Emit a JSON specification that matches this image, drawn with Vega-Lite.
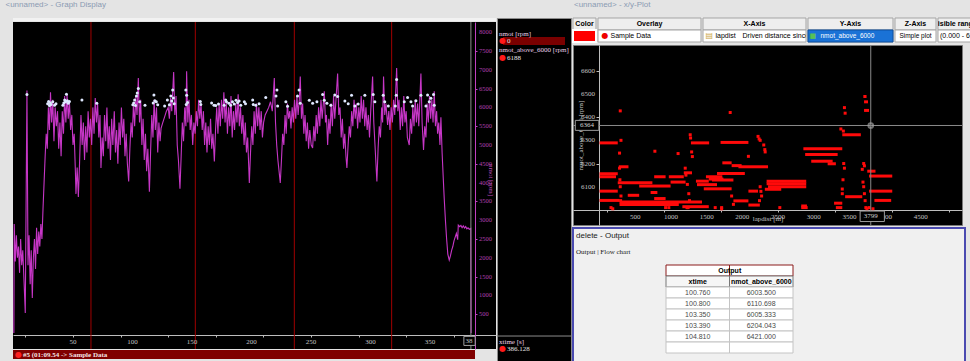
{
"$schema":"https://vega.github.io/schema/vega-lite/v6.json",
"background":"#e4e4e4",
"padding":{"left":5,"top":0,"right":0,"bottom":0},
"spacing":0,
"resolve":{"scale":{"x":"independent","y":"independent"}},
"config":{"view":{"stroke":null},"concat":{"spacing":0},"axis":{"grid":false,"labels":false},"title":{"font":"Liberation Sans","fontWeight":"normal","fontSize":8,"color":"#8b9bb3","anchor":"start"},"text":{"font":"Liberation Sans","fontSize":7}},
"datasets":{
"nmot":[{"xtime":0.3,"nmot":0},{"xtime":0.6,"nmot":2900},{"xtime":1.5,"nmot":1900},{"xtime":2.4,"nmot":2600},{"xtime":3.3,"nmot":2000},{"xtime":4.2,"nmot":2300},{"xtime":5.1,"nmot":1600},{"xtime":6,"nmot":2500},{"xtime":6.9,"nmot":1800},{"xtime":7.8,"nmot":2200},{"xtime":8.7,"nmot":1500},{"xtime":9.9,"nmot":530},{"xtime":11.3,"nmot":6450},{"xtime":12.2,"nmot":1800},{"xtime":13.1,"nmot":2600},{"xtime":14,"nmot":1300},{"xtime":14.9,"nmot":2200},{"xtime":15.8,"nmot":930},{"xtime":16.7,"nmot":2000},{"xtime":17.6,"nmot":2500},{"xtime":18.5,"nmot":1700},{"xtime":19.4,"nmot":2800},{"xtime":20.3,"nmot":2100},{"xtime":21.2,"nmot":2700},{"xtime":22.1,"nmot":2300},{"xtime":23,"nmot":2900},{"xtime":23.9,"nmot":2500},{"xtime":24.8,"nmot":3300},
{"xtime":25.7,"nmot":4000},{"xtime":26.6,"nmot":4700},{"xtime":27.5,"nmot":5300},{"xtime":28.4,"nmot":4900},{"xtime":29.3,"nmot":6000},{"xtime":30.2,"nmot":5400},{"xtime":31.1,"nmot":6400},{"xtime":32,"nmot":5600},{"xtime":33,"nmot":6200},{"xtime":34,"nmot":5100},{"xtime":35,"nmot":6000},{"xtime":36,"nmot":5500},{"xtime":37,"nmot":5900},{"xtime":38,"nmot":4900},{"xtime":39,"nmot":5600},{"xtime":40,"nmot":4700},{"xtime":41,"nmot":5900},{"xtime":42,"nmot":5300},{"xtime":43,"nmot":6300},{"xtime":44,"nmot":5600},{"xtime":45,"nmot":6350},{"xtime":46,"nmot":5700},{"xtime":47,"nmot":6150},{"xtime":48,"nmot":5400},{"xtime":49,"nmot":5800},{"xtime":50,"nmot":5000},{"xtime":51,"nmot":5300},{"xtime":52,"nmot":4300},{"xtime":52.5,"nmot":3700},{"xtime":53.5,"nmot":4400},{"xtime":54.5,"nmot":3620},{"xtime":55.5,"nmot":4500},
{"xtime":56.7,"nmot":5800},{"xtime":57.7,"nmot":5000},{"xtime":58.7,"nmot":5600},{"xtime":59.7,"nmot":4600},{"xtime":60.7,"nmot":5500},{"xtime":61.7,"nmot":4800},{"xtime":62.7,"nmot":5900},{"xtime":63.7,"nmot":5200},{"xtime":64.7,"nmot":5700},{"xtime":65.7,"nmot":5000},{"xtime":66.7,"nmot":6000},{"xtime":67.7,"nmot":5300},{"xtime":68.7,"nmot":6250},{"xtime":69.7,"nmot":5600},{"xtime":70.7,"nmot":6100},{"xtime":71.7,"nmot":5200},{"xtime":72.7,"nmot":5800},{"xtime":73.5,"nmot":4390},{"xtime":74.5,"nmot":5200},{"xtime":75.5,"nmot":4700},{"xtime":76.5,"nmot":5800},{"xtime":77.5,"nmot":5100},{"xtime":78.5,"nmot":6000},{"xtime":79.5,"nmot":4900},{"xtime":80.5,"nmot":5500},{"xtime":81.5,"nmot":4600},{"xtime":82.5,"nmot":5700},{"xtime":83.5,"nmot":5000},{"xtime":84.7,"nmot":5900},{"xtime":85.7,"nmot":4800},{"xtime":86.7,"nmot":5400},{"xtime":87.7,"nmot":4500},{"xtime":88.7,"nmot":5600},{"xtime":89.7,"nmot":5000},{"xtime":90.7,"nmot":6000},{"xtime":91.7,"nmot":5200},{"xtime":92.7,"nmot":5700},{"xtime":93.7,"nmot":4700},{"xtime":94.7,"nmot":5300},{"xtime":95.7,"nmot":4500},{"xtime":96.8,"nmot":4030},{"xtime":97.8,"nmot":4900},
{"xtime":98.8,"nmot":5600},{"xtime":99.8,"nmot":5200},{"xtime":100.8,"nmot":6100},{"xtime":101.8,"nmot":5500},{"xtime":102.8,"nmot":6300},{"xtime":103.8,"nmot":5800},{"xtime":104.9,"nmot":6780},{"xtime":105.9,"nmot":5600},{"xtime":106.9,"nmot":6200},{"xtime":107.9,"nmot":5000},{"xtime":108.9,"nmot":5700},{"xtime":109.9,"nmot":4600},{"xtime":110.9,"nmot":5300},{"xtime":111.9,"nmot":4300},{"xtime":112.9,"nmot":4900},{"xtime":114.2,"nmot":3760},{"xtime":115.2,"nmot":4800},{"xtime":116.2,"nmot":5800},{"xtime":117.2,"nmot":5200},{"xtime":118.2,"nmot":6200},{"xtime":119.2,"nmot":5400},{"xtime":120.2,"nmot":6000},{"xtime":121.2,"nmot":4800},{"xtime":122.2,"nmot":5600},{"xtime":123.2,"nmot":5100},{"xtime":124,"nmot":5440},
{"xtime":125.5,"nmot":5600},{"xtime":127,"nmot":5750},{"xtime":128.5,"nmot":5900},{"xtime":130,"nmot":6000},{"xtime":131,"nmot":5700},{"xtime":132,"nmot":6250},{"xtime":133,"nmot":5900},{"xtime":134.6,"nmot":6940},{"xtime":135.6,"nmot":5800},{"xtime":136.6,"nmot":6300},{"xtime":137.6,"nmot":5000},{"xtime":138.6,"nmot":4600},{"xtime":139.9,"nmot":3840},{"xtime":140.9,"nmot":4700},{"xtime":141.9,"nmot":5600},{"xtime":142.9,"nmot":5100},{"xtime":143.9,"nmot":6000},{"xtime":144.9,"nmot":5500},{"xtime":145.5,"nmot":6960},{"xtime":146.5,"nmot":5600},{"xtime":147.5,"nmot":6200},{"xtime":148.5,"nmot":5400},{"xtime":149.5,"nmot":5800},{"xtime":150.6,"nmot":5000},{"xtime":151.6,"nmot":5600},{"xtime":152.6,"nmot":5300},{"xtime":153.6,"nmot":5900},{"xtime":154.6,"nmot":5500},{"xtime":155.6,"nmot":6200},{"xtime":156.6,"nmot":5700},{"xtime":157.6,"nmot":6100},{"xtime":158.6,"nmot":5400},{"xtime":159.6,"nmot":5900},{"xtime":160.6,"nmot":5000},{"xtime":161.6,"nmot":5600},{"xtime":162.6,"nmot":4800},{"xtime":163.6,"nmot":5500},{"xtime":164.6,"nmot":5000},{"xtime":165.6,"nmot":5700},{"xtime":166.6,"nmot":4900},{"xtime":167.6,"nmot":5300},{"xtime":168.8,"nmot":4560},{"xtime":169.8,"nmot":5400},{"xtime":170.8,"nmot":6000},{"xtime":171.8,"nmot":5300},{"xtime":172.8,"nmot":6100},{"xtime":173.8,"nmot":5500},{"xtime":174.8,"nmot":6200},{"xtime":175.8,"nmot":5700},{"xtime":176.8,"nmot":6400},{"xtime":177.8,"nmot":5600},{"xtime":178.8,"nmot":6150},{"xtime":179.8,"nmot":5300},{"xtime":180.8,"nmot":6000},{"xtime":181.8,"nmot":5500},{"xtime":182.8,"nmot":6300},{"xtime":183.8,"nmot":5200},{"xtime":184.8,"nmot":5900},{"xtime":185.8,"nmot":5400},{"xtime":186.8,"nmot":6100},{"xtime":187.8,"nmot":5600},{"xtime":188.8,"nmot":6350},{"xtime":189.8,"nmot":5500},{"xtime":190.8,"nmot":6000},{"xtime":191.8,"nmot":5300},{"xtime":192.8,"nmot":5800},{"xtime":193.8,"nmot":5000},{"xtime":194.8,"nmot":5600},{"xtime":195.8,"nmot":4800},{"xtime":196.8,"nmot":5200},{"xtime":198.2,"nmot":3990},{"xtime":199.2,"nmot":4800},
{"xtime":200.2,"nmot":5500},{"xtime":201.2,"nmot":5000},{"xtime":202.2,"nmot":5900},{"xtime":203.2,"nmot":5300},{"xtime":204.2,"nmot":6100},{"xtime":205.2,"nmot":5500},{"xtime":206.2,"nmot":6000},{"xtime":207.2,"nmot":5400},{"xtime":208.2,"nmot":5900},{"xtime":209.2,"nmot":5200},{"xtime":210.2,"nmot":5600},{"xtime":211.5,"nmot":5800},{"xtime":213,"nmot":5900},{"xtime":214.5,"nmot":6000},{"xtime":216,"nmot":6150},{"xtime":217.5,"nmot":5900},{"xtime":219.2,"nmot":6780},{"xtime":220.2,"nmot":5600},{"xtime":221.2,"nmot":5000},{"xtime":222.2,"nmot":4600},{"xtime":223.2,"nmot":4300},{"xtime":224.2,"nmot":3990},{"xtime":225.2,"nmot":4600},{"xtime":226.2,"nmot":5300},{"xtime":227.2,"nmot":5000},{"xtime":228.2,"nmot":5800},{"xtime":229.2,"nmot":5300},{"xtime":230.2,"nmot":6100},{"xtime":231.2,"nmot":5700},{"xtime":232.2,"nmot":5900},{"xtime":233.2,"nmot":5440},{"xtime":234.2,"nmot":6000},{"xtime":235.2,"nmot":5600},{"xtime":236.2,"nmot":6200},{"xtime":237.2,"nmot":5700},{"xtime":238.2,"nmot":6300},{"xtime":239.2,"nmot":5800},{"xtime":240.2,"nmot":6200},{"xtime":241,"nmot":6820},{"xtime":242,"nmot":5700},{"xtime":243,"nmot":6100},{"xtime":244,"nmot":5300},{"xtime":245,"nmot":5800},{"xtime":246,"nmot":5100},{"xtime":247,"nmot":5600},{"xtime":248,"nmot":4900},{"xtime":249,"nmot":5400},{"xtime":250.2,"nmot":5000},{"xtime":251.4,"nmot":4920},{"xtime":252.4,"nmot":5500},{"xtime":253.4,"nmot":5100},{"xtime":254.4,"nmot":5800},{"xtime":255.4,"nmot":5300},{"xtime":256.4,"nmot":6000},{"xtime":257.4,"nmot":5500},{"xtime":258.4,"nmot":6200},{"xtime":259.4,"nmot":5700},{"xtime":261.2,"nmot":6430},{"xtime":262.2,"nmot":5600},{"xtime":263,"nmot":5800},{"xtime":264,"nmot":5000},{"xtime":265,"nmot":5700},{"xtime":266,"nmot":5300},{"xtime":267,"nmot":6100},{"xtime":268,"nmot":5500},{"xtime":269,"nmot":6300},{"xtime":270,"nmot":5700},{"xtime":271,"nmot":6200},{"xtime":272.4,"nmot":6900},{"xtime":273.4,"nmot":5800},{"xtime":274.4,"nmot":6000},{"xtime":275.4,"nmot":5200},{"xtime":276.4,"nmot":5700},{"xtime":277.4,"nmot":4900},{"xtime":278.4,"nmot":5300},{"xtime":279.4,"nmot":4700},{"xtime":280.2,"nmot":4390},{"xtime":281.2,"nmot":5000},{"xtime":282.2,"nmot":5500},{"xtime":283.2,"nmot":5200},{"xtime":284.2,"nmot":5900},{"xtime":285.2,"nmot":5500},{"xtime":286.2,"nmot":6200},{"xtime":287.2,"nmot":5700},{"xtime":288.2,"nmot":6100},{"xtime":289.2,"nmot":5440},{"xtime":290.2,"nmot":6000},{"xtime":291.2,"nmot":5600},{"xtime":292.2,"nmot":6300},{"xtime":293.2,"nmot":5700},{"xtime":294.2,"nmot":6200},{"xtime":295.2,"nmot":5500},{"xtime":296.2,"nmot":6000},{"xtime":297.2,"nmot":5400},{"xtime":298.2,"nmot":5800},{"xtime":299.2,"nmot":5200},{"xtime":300.2,"nmot":5900},{"xtime":301.8,"nmot":6820},{"xtime":302.8,"nmot":5600},{"xtime":303.8,"nmot":5000},{"xtime":305.4,"nmot":4030},{"xtime":306.4,"nmot":4900},{"xtime":307.4,"nmot":5500},{"xtime":308.4,"nmot":5200},{"xtime":309.4,"nmot":6000},{"xtime":310.2,"nmot":5600},{"xtime":311,"nmot":6820},{"xtime":312,"nmot":5800},{"xtime":313,"nmot":6100},{"xtime":314.4,"nmot":5530},{"xtime":315.4,"nmot":5900},{"xtime":316.4,"nmot":5400},{"xtime":317.4,"nmot":6000},{"xtime":318.4,"nmot":5600},{"xtime":319.4,"nmot":6200},{"xtime":320.4,"nmot":5800},{"xtime":322,"nmot":7050},{"xtime":323,"nmot":5900},{"xtime":324,"nmot":6200},{"xtime":325,"nmot":5400},{"xtime":326,"nmot":6000},{"xtime":327,"nmot":5500},{"xtime":328,"nmot":6300},{"xtime":329,"nmot":5600},{"xtime":330,"nmot":5900},{"xtime":331,"nmot":5200},{"xtime":332.6,"nmot":5000},{"xtime":333.6,"nmot":5700},{"xtime":334.6,"nmot":5300},{"xtime":335.6,"nmot":6000},{"xtime":336.6,"nmot":5500},{"xtime":337.6,"nmot":6200},{"xtime":338.6,"nmot":5600},{"xtime":339.6,"nmot":6100},{"xtime":340.6,"nmot":5500},{"xtime":342.4,"nmot":6900},{"xtime":343.4,"nmot":5600},{"xtime":344.6,"nmot":4870},{"xtime":345.6,"nmot":5500},{"xtime":346.6,"nmot":5200},{"xtime":347.6,"nmot":6100},{"xtime":348.6,"nmot":5600},{"xtime":349.6,"nmot":6300},{"xtime":350.6,"nmot":5700},{"xtime":351.6,"nmot":6200},{"xtime":352.6,"nmot":5600},{"xtime":353.6,"nmot":6430},{"xtime":354.6,"nmot":5500},{"xtime":355.6,"nmot":5900},{"xtime":356.4,"nmot":5300},{"xtime":357.4,"nmot":5600},{"xtime":358.4,"nmot":5000},{"xtime":359.2,"nmot":5740},{"xtime":360.2,"nmot":4800},{"xtime":361.2,"nmot":4100},{"xtime":362,"nmot":3570},{"xtime":363,"nmot":3000},{"xtime":364,"nmot":2500},{"xtime":365,"nmot":2100},{"xtime":366.2,"nmot":1940},{"xtime":367.2,"nmot":2050},{"xtime":368.2,"nmot":2200},{"xtime":369.2,"nmot":2300},{"xtime":370.2,"nmot":2450},{"xtime":371.2,"nmot":2550},{"xtime":372.2,"nmot":2650},{"xtime":373.3,"nmot":2480},{"xtime":373.8,"nmot":2870},{"xtime":375,"nmot":2830},{"xtime":376,"nmot":2860},{"xtime":377,"nmot":2800},{"xtime":378,"nmot":2850},{"xtime":379,"nmot":2790},{"xtime":380,"nmot":2830},{"xtime":381,"nmot":2770},{"xtime":382,"nmot":2800},{"xtime":383,"nmot":2760},{"xtime":384.3,"nmot":2780},{"xtime":384.6,"nmot":0}],
"above":[{"xtime":11.3,"nmot_above_6000":6340},{"xtime":28.7,"nmot_above_6000":6100},{"xtime":29.5,"nmot_above_6000":6160},{"xtime":30.2,"nmot_above_6000":6050},{"xtime":31,"nmot_above_6000":6120},{"xtime":31.6,"nmot_above_6000":6080},{"xtime":33,"nmot_above_6000":6150},{"xtime":34.5,"nmot_above_6000":6060},{"xtime":35.7,"nmot_above_6000":6100},{"xtime":41.5,"nmot_above_6000":6060},{"xtime":42.3,"nmot_above_6000":6120},{"xtime":43,"nmot_above_6000":6200},{"xtime":43.8,"nmot_above_6000":6150},{"xtime":44.5,"nmot_above_6000":6350},{"xtime":45.3,"nmot_above_6000":6180},{"xtime":46,"nmot_above_6000":6110},{"xtime":47,"nmot_above_6000":6160},{"xtime":57.5,"nmot_above_6000":6200},{"xtime":70,"nmot_above_6000":6110},{"xtime":100.3,"nmot_above_6000":6070},{"xtime":101,"nmot_above_6000":6120},{"xtime":101.8,"nmot_above_6000":6200},{"xtime":102.5,"nmot_above_6000":6050},{"xtime":103.3,"nmot_above_6000":6300},{"xtime":104,"nmot_above_6000":6380},{"xtime":104.9,"nmot_above_6000":6500},{"xtime":106,"nmot_above_6000":6150},{"xtime":110.5,"nmot_above_6000":6060},{"xtime":117.4,"nmot_above_6000":6120},{"xtime":118,"nmot_above_6000":6330},{"xtime":118.8,"nmot_above_6000":6180},{"xtime":120,"nmot_above_6000":6150},{"xtime":121.2,"nmot_above_6000":6070},{"xtime":127,"nmot_above_6000":6040},{"xtime":129.3,"nmot_above_6000":6200},{"xtime":131,"nmot_above_6000":6070},{"xtime":132.2,"nmot_above_6000":6300},{"xtime":133,"nmot_above_6000":6170},{"xtime":133.8,"nmot_above_6000":6460},{"xtime":134.4,"nmot_above_6000":6250},{"xtime":135,"nmot_above_6000":6100},{"xtime":144.8,"nmot_above_6000":6460},{"xtime":145.2,"nmot_above_6000":6080},{"xtime":145.5,"nmot_above_6000":6320},{"xtime":146.3,"nmot_above_6000":6130},{"xtime":157,"nmot_above_6000":6160},{"xtime":157.4,"nmot_above_6000":6080},{"xtime":166.5,"nmot_above_6000":6120},{"xtime":168.5,"nmot_above_6000":6060},{"xtime":170,"nmot_above_6000":6050},{"xtime":172.3,"nmot_above_6000":6090},{"xtime":177,"nmot_above_6000":6060},{"xtime":178.3,"nmot_above_6000":6200},{"xtime":179,"nmot_above_6000":6150},{"xtime":181,"nmot_above_6000":6110},{"xtime":182.5,"nmot_above_6000":6060},{"xtime":184,"nmot_above_6000":6150},{"xtime":185.5,"nmot_above_6000":6090},{"xtime":187,"nmot_above_6000":6190},{"xtime":188.3,"nmot_above_6000":6130},{"xtime":189.6,"nmot_above_6000":6170},{"xtime":191,"nmot_above_6000":6060},{"xtime":194,"nmot_above_6000":6150},{"xtime":195,"nmot_above_6000":6100},{"xtime":201,"nmot_above_6000":6200},{"xtime":201.5,"nmot_above_6000":6080},{"xtime":203.6,"nmot_above_6000":6060},{"xtime":206.4,"nmot_above_6000":6100},{"xtime":212,"nmot_above_6000":6260},{"xtime":220.6,"nmot_above_6000":6300},{"xtime":221.4,"nmot_above_6000":6460},{"xtime":222,"nmot_above_6000":6040},{"xtime":228.9,"nmot_above_6000":6150},{"xtime":230.3,"nmot_above_6000":6030},{"xtime":238.7,"nmot_above_6000":6300},{"xtime":240,"nmot_above_6000":6460},{"xtime":241,"nmot_above_6000":6110},{"xtime":248.6,"nmot_above_6000":6190},{"xtime":251.4,"nmot_above_6000":6110},{"xtime":255,"nmot_above_6000":6150},{"xtime":259.8,"nmot_above_6000":6340},{"xtime":261.2,"nmot_above_6000":6190},{"xtime":263.4,"nmot_above_6000":6110},{"xtime":266.7,"nmot_above_6000":6060},{"xtime":270,"nmot_above_6000":6330},{"xtime":272.4,"nmot_above_6000":6290},{"xtime":278.5,"nmot_above_6000":6170},{"xtime":281.3,"nmot_above_6000":6100},{"xtime":284.1,"nmot_above_6000":6320},{"xtime":286.9,"nmot_above_6000":6040},{"xtime":289.7,"nmot_above_6000":6090},{"xtime":295.3,"nmot_above_6000":6320},{"xtime":302.3,"nmot_above_6000":6340},{"xtime":303.7,"nmot_above_6000":6150},{"xtime":310.7,"nmot_above_6000":6320},{"xtime":312,"nmot_above_6000":6150},{"xtime":315,"nmot_above_6000":6040},{"xtime":320.9,"nmot_above_6000":6040},{"xtime":321.7,"nmot_above_6000":6320},{"xtime":322,"nmot_above_6000":6740},{"xtime":328.4,"nmot_above_6000":6150},{"xtime":331.2,"nmot_above_6000":6260},{"xtime":334,"nmot_above_6000":6150},{"xtime":335.4,"nmot_above_6000":6040},{"xtime":338.2,"nmot_above_6000":6180},{"xtime":342.4,"nmot_above_6000":6320},{"xtime":346.6,"nmot_above_6000":6040},{"xtime":348,"nmot_above_6000":6330},{"xtime":349.4,"nmot_above_6000":6150},{"xtime":350.8,"nmot_above_6000":6240},{"xtime":353,"nmot_above_6000":6340},{"xtime":353.6,"nmot_above_6000":6060}],
"laps":[{"xtime":65.1},{"xtime":152.8},{"xtime":236},{"xtime":317.8}],
"timeTicks":[{"tick":50},{"tick":100},{"tick":150},{"tick":200},{"tick":250},{"tick":300},{"tick":350}],
"rpmTicks":[{"tick":500},{"tick":1000},{"tick":1500},{"tick":2000},{"tick":2500},{"tick":3000},{"tick":3500},{"tick":4000},{"tick":4500},{"tick":5000},{"tick":5500},{"tick":6000},{"tick":6500},{"tick":7000},{"tick":7500},{"tick":8000}],
"ldTicks":[{"tick":500},{"tick":1000},{"tick":1500},{"tick":2000},{"tick":2500},{"tick":3000},{"tick":3500},{"tick":4000},{"tick":4500}],
"nTicks":[{"tick":6100},{"tick":6200},{"tick":6300},{"tick":6400},{"tick":6500},{"tick":6600}],
"segs":[{"lapdist":0,"lapdist_end":255,"nmot_above_6000":6289},{"lapdist":0,"lapdist_end":255,"nmot_above_6000":6156},{"lapdist":0,"lapdist_end":230,"nmot_above_6000":6143},{"lapdist":0,"lapdist_end":255,"nmot_above_6000":6081},{"lapdist":0,"lapdist_end":280,"nmot_above_6000":6041},{"lapdist":255,"lapdist_end":740,"nmot_above_6000":6117},{"lapdist":555,"lapdist_end":995,"nmot_above_6000":6103},{"lapdist":395,"lapdist_end":555,"nmot_above_6000":6063},{"lapdist":280,"lapdist_end":1435,"nmot_above_6000":6034},{"lapdist":280,"lapdist_end":1110,"nmot_above_6000":6023},{"lapdist":765,"lapdist_end":925,"nmot_above_6000":6049},{"lapdist":765,"lapdist_end":925,"nmot_above_6000":6143},{"lapdist":270,"lapdist_end":405,"nmot_above_6000":6186},{"lapdist":970,"lapdist_end":1180,"nmot_above_6000":6143},{"lapdist":995,"lapdist_end":1205,"nmot_above_6000":6120},{"lapdist":1180,"lapdist_end":1295,"nmot_above_6000":6160},{"lapdist":1280,"lapdist_end":1535,"nmot_above_6000":6289},{"lapdist":1350,"lapdist_end":1530,"nmot_above_6000":6124},{"lapdist":1365,"lapdist_end":1645,"nmot_above_6000":6109},{"lapdist":1490,"lapdist_end":1720,"nmot_above_6000":6143},{"lapdist":1530,"lapdist_end":1735,"nmot_above_6000":6133},{"lapdist":1645,"lapdist_end":2035,"nmot_above_6000":6157},{"lapdist":1575,"lapdist_end":1875,"nmot_above_6000":6129},{"lapdist":1695,"lapdist_end":2085,"nmot_above_6000":6291},{"lapdist":1720,"lapdist_end":1850,"nmot_above_6000":6203},{"lapdist":1850,"lapdist_end":1990,"nmot_above_6000":6191},{"lapdist":1945,"lapdist_end":2360,"nmot_above_6000":6186},{"lapdist":1460,"lapdist_end":1850,"nmot_above_6000":6091},{"lapdist":1875,"lapdist_end":2085,"nmot_above_6000":6039},{"lapdist":2085,"lapdist_end":2220,"nmot_above_6000":6081},{"lapdist":2085,"lapdist_end":2245,"nmot_above_6000":6021},{"lapdist":2340,"lapdist_end":2895,"nmot_above_6000":6124},{"lapdist":2340,"lapdist_end":2895,"nmot_above_6000":6113},{"lapdist":2360,"lapdist_end":2895,"nmot_above_6000":6100},{"lapdist":2315,"lapdist_end":2545,"nmot_above_6000":6089},{"lapdist":2825,"lapdist_end":2915,"nmot_above_6000":6010},{"lapdist":2825,"lapdist_end":2905,"nmot_above_6000":6017},{"lapdist":2855,"lapdist_end":3400,"nmot_above_6000":6264},{"lapdist":2880,"lapdist_end":3335,"nmot_above_6000":6239},{"lapdist":2965,"lapdist_end":3265,"nmot_above_6000":6210},{"lapdist":3195,"lapdist_end":3310,"nmot_above_6000":6199},{"lapdist":3400,"lapdist_end":3660,"nmot_above_6000":6324},{"lapdist":3440,"lapdist_end":3680,"nmot_above_6000":6057},{"lapdist":3285,"lapdist_end":3400,"nmot_above_6000":6029},{"lapdist":3310,"lapdist_end":3400,"nmot_above_6000":6010},{"lapdist":3750,"lapdist_end":3865,"nmot_above_6000":6167},{"lapdist":3775,"lapdist_end":4100,"nmot_above_6000":6146},{"lapdist":3775,"lapdist_end":4100,"nmot_above_6000":6081},{"lapdist":3850,"lapdist_end":4085,"nmot_above_6000":6041},{"lapdist":3695,"lapdist_end":3740,"nmot_above_6000":6489},{"lapdist":3705,"lapdist_end":3760,"nmot_above_6000":6466},{"lapdist":3705,"lapdist_end":3775,"nmot_above_6000":6429},{"lapdist":1160,"lapdist_end":1530,"nmot_above_6000":6014},{"lapdist":715,"lapdist_end":810,"nmot_above_6000":6075}],
"pts":[{"lapdist":290,"nmot_above_6000":6427},{"lapdist":300,"nmot_above_6000":6300},{"lapdist":280,"nmot_above_6000":6245},{"lapdist":280,"nmot_above_6000":6180},{"lapdist":285,"nmot_above_6000":6130},{"lapdist":290,"nmot_above_6000":6100},{"lapdist":300,"nmot_above_6000":6060},{"lapdist":295,"nmot_above_6000":6040},{"lapdist":775,"nmot_above_6000":6253},{"lapdist":1100,"nmot_above_6000":6243},{"lapdist":1270,"nmot_above_6000":6324},{"lapdist":1275,"nmot_above_6000":6310},{"lapdist":1830,"nmot_above_6000":6420},{"lapdist":2085,"nmot_above_6000":6231},{"lapdist":2235,"nmot_above_6000":6306},{"lapdist":2250,"nmot_above_6000":6300},{"lapdist":2315,"nmot_above_6000":6260},{"lapdist":2320,"nmot_above_6000":6250},{"lapdist":2300,"nmot_above_6000":6280},{"lapdist":3380,"nmot_above_6000":6349},{"lapdist":3430,"nmot_above_6000":6441},{"lapdist":3440,"nmot_above_6000":6417},{"lapdist":3415,"nmot_above_6000":6340},{"lapdist":3420,"nmot_above_6000":6200},{"lapdist":3430,"nmot_above_6000":6180},{"lapdist":3410,"nmot_above_6000":6130},{"lapdist":3400,"nmot_above_6000":6090},{"lapdist":3400,"nmot_above_6000":6070},{"lapdist":3700,"nmot_above_6000":6200},{"lapdist":3710,"nmot_above_6000":6190},{"lapdist":3680,"nmot_above_6000":6175},{"lapdist":3690,"nmot_above_6000":6120},{"lapdist":3700,"nmot_above_6000":6100},{"lapdist":3710,"nmot_above_6000":6070},{"lapdist":3720,"nmot_above_6000":6040},{"lapdist":3730,"nmot_above_6000":6010},{"lapdist":3745,"nmot_above_6000":6005},{"lapdist":3830,"nmot_above_6000":6005},{"lapdist":1200,"nmot_above_6000":6180},{"lapdist":1210,"nmot_above_6000":6150},{"lapdist":1230,"nmot_above_6000":6110},{"lapdist":1250,"nmot_above_6000":6070},{"lapdist":1260,"nmot_above_6000":6040},{"lapdist":1240,"nmot_above_6000":6010},{"lapdist":1290,"nmot_above_6000":6250},{"lapdist":1300,"nmot_above_6000":6230},{"lapdist":2250,"nmot_above_6000":6100},{"lapdist":2260,"nmot_above_6000":6080},{"lapdist":2270,"nmot_above_6000":6060},{"lapdist":2240,"nmot_above_6000":6040},{"lapdist":2220,"nmot_above_6000":6317},{"lapdist":1850,"nmot_above_6000":6060},{"lapdist":1875,"nmot_above_6000":6024},{"lapdist":1620,"nmot_above_6000":6010},{"lapdist":1710,"nmot_above_6000":6010},{"lapdist":160,"nmot_above_6000":6010},{"lapdist":185,"nmot_above_6000":6005},{"lapdist":925,"nmot_above_6000":6010},{"lapdist":970,"nmot_above_6000":6010},{"lapdist":1225,"nmot_above_6000":6010},{"lapdist":1710,"nmot_above_6000":6005},{"lapdist":2525,"nmot_above_6000":6010},{"lapdist":3775,"nmot_above_6000":6010}],
"cursor":[{"lapdist":3799,"nmot_above_6000":6364}],
"outTable":[{"row":"r1","xtime":"100.760","nmot_above_6000":"6003.500"},{"row":"r2","xtime":"100.800","nmot_above_6000":"6110.698"},{"row":"r3","xtime":"103.350","nmot_above_6000":"6005.333"},{"row":"r4","xtime":"103.390","nmot_above_6000":"6204.043"},{"row":"r5","xtime":"104.810","nmot_above_6000":"6421.000"},{"row":"r6","xtime":"","nmot_above_6000":""}],
"legend":[{"entry":"nmot [rpm]","kind":"name","row":1.86},{"entry":"0","kind":"value","row":2.67},{"entry":"nmot_above_6000 [rpm]","kind":"name","row":3.72},{"entry":"6188","kind":"value","row":4.65},{"entry":"xtime [s]","kind":"name","row":37.67},{"entry":"386.128","kind":"value","row":38.49}]
},
"hconcat":[
{"vconcat":[
 {"width":483,"height":3,
  "title":{"text":"<unnamed> - Graph Display","offset":9,"dx":-7},
  "view":{"fill":"#f2f2f2","stroke":null},
  "data":{"values":[{"window":"Graph Display"}]},"mark":{"type":"rule","opacity":0},"encoding":{}},
 {"width":483,"height":327,
  "view":{"fill":"#000000","stroke":null},
  "layer":[
   {"data":{"name":"laps"},"mark":{"type":"rule","color":"#a00000","strokeWidth":1},
    "encoding":{"x":{"field":"xtime","type":"quantitative","scale":{"domain":[-0.42,405.5],"nice":false,"zero":false},
     "axis":{"orient":"bottom","offset":-14,"values":[10,20,30,40,50,60,70,80,90,100,110,120,130,140,150,160,170,180,190,200,210,220,230,240,250,260,270,280,290,300,310,320,330,340,350,360,370,380],"title":null,"labels":false,"tickColor":"#bdbdbd","tickSize":2,"domainColor":"#bdbdbd"}}}},
   {"data":{"name":"nmot"},"mark":{"type":"line","color":"#c636c6","strokeWidth":1.1},
    "encoding":{"x":{"field":"xtime","type":"quantitative"},
     "y":{"field":"nmot","type":"quantitative","scale":{"domain":[-425,8271],"nice":false,"zero":false},
      "axis":{"orient":"right","offset":-21,"values":[500,1000,1500,2000,2500,3000,3500,4000,4500,5000,5500,6000,6500,7000,7500,8000],"title":null,"labels":false,"tickColor":"#c040c0","tickSize":2,"domainColor":"#c040c0"}}}},
   {"data":{"name":"above"},"mark":{"type":"circle","color":"#dfe8ff","size":9,"opacity":1},
    "encoding":{"x":{"field":"xtime","type":"quantitative"},"y":{"field":"nmot_above_6000","type":"quantitative"}}},
   {"data":{"values":[{"xtime":384.4}]},"mark":{"type":"rule","color":"#8a8a8a","strokeWidth":1},
    "encoding":{"x":{"field":"xtime","type":"quantitative"}}},
   {"data":{"name":"rpmTicks"},"mark":{"type":"text","align":"left","baseline":"middle","color":"#b040b0","font":"Liberation Serif","fontSize":6.5},
    "encoding":{"x":{"datum":391.3},"y":{"field":"tick","type":"quantitative"},"text":{"field":"tick","format":"d"}}},
   {"data":{"values":[{"axis":"nmot [rpm]"}]},"mark":{"type":"text","angle":90,"baseline":"middle","color":"#b84ab8","font":"Liberation Serif","fontSize":7},
    "encoding":{"x":{"datum":401.5},"y":{"datum":4070},"text":{"field":"axis"}}},
   {"data":{"name":"timeTicks"},"mark":{"type":"text","baseline":"middle","color":"#c4c4c4","font":"Liberation Serif","fontSize":7},
    "encoding":{"x":{"field":"tick","type":"quantitative"},"y":{"datum":-240},"text":{"field":"tick","format":"d"}}},
   {"data":{"values":[{"xtime":386.128}]},"mark":{"type":"rect","fill":"#000000","stroke":"#a0a0a0","strokeWidth":1},
    "encoding":{"x":{"datum":378.5},"x2":{"datum":388},"y":{"datum":-90},"y2":{"datum":-330}}},
   {"data":{"values":[{"xtime":386.128,"label":"38"}]},"mark":{"type":"text","baseline":"middle","color":"#c4c4c4","font":"Liberation Serif","fontSize":7},
    "encoding":{"x":{"datum":382.8},"y":{"datum":-215},"text":{"field":"label"}}}
  ]},
 {"width":462,"height":9,
  "view":{"fill":"#800000","stroke":null},
  "data":{"values":[{"lap":"#5 (01:09.54 -> Sample Data"}]},
  "layer":[
   {"mark":{"type":"text","text":"●","font":"DejaVu Sans","color":"#ff2020","fontSize":8,"align":"left","dx":-229},"encoding":{}},
   {"mark":{"type":"text","align":"left","dx":-221,"color":"#f2e4e4","fontSize":7,"font":"Liberation Serif","fontWeight":"bold"},"encoding":{"text":{"field":"lap"}}}
  ]}
 ],"spacing":0},
{"width":74,"height":344,
 "title":{"text":" ","offset":9},
 "view":{"fill":"#000000","stroke":"#8c8c8c"},
 "data":{"name":"legend"},
 "encoding":{"y":{"field":"row","type":"quantitative","scale":{"domain":[0,40],"reverse":true,"nice":false,"zero":false},"axis":null}},
 "layer":[
  {"transform":[{"filter":"datum.entry === '0'"}],"mark":{"type":"tick","orient":"horizontal","color":"#7a0000","thickness":8,"size":62,"opacity":1}},
  {"transform":[{"filter":"datum.kind === 'name'"}],"mark":{"type":"text","align":"left","dx":-35,"color":"#e8d0e8","font":"Liberation Serif","fontSize":7},"encoding":{"text":{"field":"entry"}}},
  {"transform":[{"filter":"datum.kind === 'value'"}],"mark":{"type":"text","text":"●","font":"DejaVu Sans","align":"left","dx":-35,"color":"#ff1a1a","fontSize":8}},
  {"transform":[{"filter":"datum.kind === 'value'"}],"mark":{"type":"text","align":"left","dx":-27,"color":"#e6e6e6","font":"Liberation Serif","fontSize":7},"encoding":{"text":{"field":"entry"}}},
  {"data":{"values":[{"row":36.98}]},"mark":{"type":"rule","color":"#8c8c8c","strokeWidth":1}}
 ]},
{"vconcat":[
 {"vconcat":[
  {"title":{"text":"<unnamed> - x/y-Plot","offset":9,"dx":2},
   "hconcat":[
    {"width":23,"height":24,"data":{"values":[{"row":"h","label":"Color"},{"row":"v","label":""}]},
     "encoding":{"y":{"field":"row","type":"nominal","scale":{"domain":["h","v"],"paddingInner":0,"paddingOuter":0},"axis":null}},
     "layer":[
      {"mark":{"type":"rect","stroke":"#a5a5a5","strokeWidth":1},"encoding":{"fill":{"condition":{"test":"datum.row==='h'","value":"#eeeeee"},"value":"#ffffff"}}},
      {"transform":[{"filter":"datum.row==='v'"}],"mark":{"type":"rect","fill":"#ff0000","stroke":"#ffffff","strokeWidth":2}},
      {"transform":[{"filter":"datum.row==='h'"}],"mark":{"type":"text","fontWeight":"bold","color":"#000000"},"encoding":{"text":{"field":"label"}}}
     ]},
    {"width":103,"height":24,"data":{"values":[{"row":"h","label":"Overlay"},{"row":"v","label":"Sample Data"}]},
     "encoding":{"y":{"field":"row","type":"nominal","scale":{"domain":["h","v"],"paddingInner":0,"paddingOuter":0},"axis":null}},
     "layer":[
      {"mark":{"type":"rect","stroke":"#a5a5a5","strokeWidth":1},"encoding":{"fill":{"condition":{"test":"datum.row==='h'","value":"#eeeeee"},"value":"#ffffff"}}},
      {"transform":[{"filter":"datum.row==='h'"}],"mark":{"type":"text","fontWeight":"bold","color":"#000000"},"encoding":{"text":{"field":"label"}}},
      {"transform":[{"filter":"datum.row==='v'"}],"mark":{"type":"text","text":"●","font":"DejaVu Sans","fontSize":8,"align":"left","dx":-48,"color":"#ee0000"}},
      {"transform":[{"filter":"datum.row==='v'"}],"mark":{"type":"text","align":"left","dx":-39,"color":"#000000"},"encoding":{"text":{"field":"label"}}}
     ]},
    {"width":103,"height":24,"data":{"values":[{"row":"h","label":"X-Axis","info":""},{"row":"v","label":"lapdist","info":"Driven distance since last lap"}]},
     "encoding":{"y":{"field":"row","type":"nominal","scale":{"domain":["h","v"],"paddingInner":0,"paddingOuter":0},"axis":null}},
     "layer":[
      {"mark":{"type":"rect","stroke":"#a5a5a5","strokeWidth":1},"encoding":{"fill":{"condition":{"test":"datum.row==='h'","value":"#eeeeee"},"value":"#ffffff"}}},
      {"transform":[{"filter":"datum.row==='h'"}],"mark":{"type":"text","fontWeight":"bold","color":"#000000"},"encoding":{"text":{"field":"label"}}},
      {"transform":[{"filter":"datum.row==='v'"}],"mark":{"type":"text","text":"▤","font":"DejaVu Sans","fontSize":8,"align":"left","dx":-49,"color":"#c9a23a"}},
      {"transform":[{"filter":"datum.row==='v'"}],"mark":{"type":"text","align":"left","dx":-39,"color":"#000000"},"encoding":{"text":{"field":"label"}}},
      {"transform":[{"filter":"datum.row==='v'"}],"mark":{"type":"text","align":"left","dx":-12,"color":"#000000","clip":true},"encoding":{"text":{"field":"info"}}}
     ]},
    {"width":85,"height":24,"data":{"values":[{"row":"h","label":"Y-Axis"},{"row":"v","label":"nmot_above_6000"}]},
     "encoding":{"y":{"field":"row","type":"nominal","scale":{"domain":["h","v"],"paddingInner":0,"paddingOuter":0},"axis":null}},
     "layer":[
      {"mark":{"type":"rect","stroke":"#a5a5a5","strokeWidth":1},"encoding":{"fill":{"condition":{"test":"datum.row==='h'","value":"#eeeeee"},"value":"#ffffff"}}},
      {"transform":[{"filter":"datum.row==='v'"}],"mark":{"type":"rect","fill":"#1a72d6","stroke":"#0c4f9e","strokeWidth":1}},
      {"transform":[{"filter":"datum.row==='h'"}],"mark":{"type":"text","fontWeight":"bold","color":"#000000"},"encoding":{"text":{"field":"label"}}},
      {"transform":[{"filter":"datum.row==='v'"}],"mark":{"type":"text","text":"■","font":"DejaVu Sans","fontSize":7,"align":"left","dx":-41,"color":"#58c058"}},
      {"transform":[{"filter":"datum.row==='v'"}],"mark":{"type":"text","align":"left","dx":-30,"color":"#ffffff","fontSize":6.5},"encoding":{"text":{"field":"label"}}}
     ]},
    {"width":41,"height":24,"data":{"values":[{"row":"h","label":"Z-Axis"},{"row":"v","label":"Simple plot"}]},
     "encoding":{"y":{"field":"row","type":"nominal","scale":{"domain":["h","v"],"paddingInner":0,"paddingOuter":0},"axis":null}},
     "layer":[
      {"mark":{"type":"rect","stroke":"#a5a5a5","strokeWidth":1},"encoding":{"fill":{"condition":{"test":"datum.row==='h'","value":"#eeeeee"},"value":"#ffffff"}}},
      {"transform":[{"filter":"datum.row==='h'"}],"mark":{"type":"text","fontWeight":"bold","color":"#000000"},"encoding":{"text":{"field":"label"}}},
      {"transform":[{"filter":"datum.row==='v'"}],"mark":{"type":"text","color":"#000000","fontSize":6.5},"encoding":{"text":{"field":"label"}}}
     ]},
    {"width":34,"height":24,"data":{"values":[{"row":"h","label":"Visible range"},{"row":"v","label":"(0.000 - 6900.000)"}]},
     "encoding":{"y":{"field":"row","type":"nominal","scale":{"domain":["h","v"],"paddingInner":0,"paddingOuter":0},"axis":null}},
     "layer":[
      {"mark":{"type":"rect","stroke":"#a5a5a5","strokeWidth":1},"encoding":{"fill":{"condition":{"test":"datum.row==='h'","value":"#eeeeee"},"value":"#ffffff"}}},
      {"transform":[{"filter":"datum.row==='h'"}],"mark":{"type":"text","fontWeight":"bold","color":"#000000","clip":true},"encoding":{"text":{"field":"label"}}},
      {"transform":[{"filter":"datum.row==='v'"}],"mark":{"type":"text","align":"left","dx":-15,"color":"#000000","clip":true},"encoding":{"text":{"field":"label"}}}
     ]}
   ],"spacing":0,"resolve":{"scale":{"y":"independent"}}},
  {"width":389,"height":180,
   "view":{"fill":"#000000","stroke":"#7a7a7a"},
   "layer":[
    {"data":{"name":"segs"},"mark":{"type":"rule","color":"#ff0a0a","strokeWidth":3,"strokeCap":"butt"},
     "encoding":{"x":{"field":"lapdist","type":"quantitative","scale":{"domain":[-372,5077],"nice":false,"zero":false},
       "axis":{"orient":"bottom","offset":-15,"values":[100,200,300,400,500,600,700,800,900,1000,1100,1200,1300,1400,1500,1600,1700,1800,1900,2000,2100,2200,2300,2400,2500,2600,2700,2800,2900,3000,3100,3200,3300,3400,3500,3600,3700,3800,3900,4000,4100,4200,4300,4400,4500,4600,4700,4800,4900],"labels":false,"title":"lapdist [m]","titleColor":"#c4c4c4","titleFont":"Liberation Serif","titleFontSize":7,"titleFontWeight":"normal","titlePadding":2,"tickColor":"#bdbdbd","tickSize":2,"domainColor":"#bdbdbd"}},
      "x2":{"field":"lapdist_end"},
      "y":{"field":"nmot_above_6000","type":"quantitative","scale":{"domain":[5935,6711],"nice":false,"zero":false},
       "axis":{"orient":"left","offset":-26,"values":[6000,6100,6200,6300,6400,6500,6600],"labels":false,"title":"nmot_above_6000 [rpm]","titleColor":"#c4c4c4","titleFont":"Liberation Serif","titleFontSize":7,"titleFontWeight":"normal","titlePadding":12,"tickColor":"#bdbdbd","tickSize":3,"domainColor":"#bdbdbd"}}}},
    {"data":{"name":"pts"},"mark":{"type":"square","color":"#ff0a0a","size":9,"opacity":1},
     "encoding":{"x":{"field":"lapdist","type":"quantitative"},"y":{"field":"nmot_above_6000","type":"quantitative"}}},
    {"data":{"name":"cursor"},"mark":{"type":"rule","color":"#8a8a8a","strokeWidth":1},"encoding":{"x":{"field":"lapdist","type":"quantitative"}}},
    {"data":{"name":"cursor"},"mark":{"type":"rule","color":"#8a8a8a","strokeWidth":1},"encoding":{"y":{"field":"nmot_above_6000","type":"quantitative"}}},
    {"data":{"name":"cursor"},"mark":{"type":"point","color":"#a0a0a0","size":22,"filled":false},"encoding":{"x":{"field":"lapdist","type":"quantitative"},"y":{"field":"nmot_above_6000","type":"quantitative"}}},
    {"data":{"name":"ldTicks"},"mark":{"type":"text","baseline":"middle","color":"#c4c4c4","font":"Liberation Serif","fontSize":7},
     "encoding":{"x":{"field":"tick","type":"quantitative"},"y":{"datum":5969},"text":{"field":"tick","format":"d"}}},
    {"data":{"name":"nTicks"},"mark":{"type":"text","align":"right","baseline":"middle","color":"#c4c4c4","font":"Liberation Serif","fontSize":7},
     "encoding":{"x":{"datum":-63},"y":{"field":"tick","type":"quantitative"},"text":{"field":"tick","format":"d"}}},
    {"data":{"name":"cursor"},"mark":{"type":"rect","fill":"#000000","stroke":"#9a9a9a","strokeWidth":1},"encoding":{"x":{"datum":-340},"x2":{"datum":-10},"y":{"datum":6343},"y2":{"datum":6386}}},
    {"data":{"name":"cursor"},"mark":{"type":"text","color":"#d0d0d0","font":"Liberation Serif","fontSize":7},"encoding":{"x":{"datum":-175},"y":{"field":"nmot_above_6000","type":"quantitative"},"text":{"field":"nmot_above_6000"}}},
    {"data":{"name":"cursor"},"mark":{"type":"rect","fill":"#000000","stroke":"#9a9a9a","strokeWidth":1},"encoding":{"x":{"datum":3650},"x2":{"datum":3990},"y":{"datum":5950},"y2":{"datum":5995}}},
    {"data":{"name":"cursor"},"mark":{"type":"text","color":"#d0d0d0","font":"Liberation Serif","fontSize":7},"encoding":{"x":{"field":"lapdist","type":"quantitative"},"y":{"datum":5972},"text":{"field":"lapdist"}}}
   ]}
 ],"spacing":1},
 {"width":392,"height":134,
  "title":{"text":"delete - Output","subtitle":"Output  |  Flow chart","offset":-27,"color":"#1a1a1a","subtitleFont":"Liberation Serif","subtitleFontSize":7,"subtitleColor":"#202020","subtitlePadding":8,"dx":3},
  "view":{"fill":"#f0f0f0","stroke":"#4a4ab0","strokeWidth":2},
  "layer":[
   {"data":{"values":[{"col":"xtime"},{"col":"nmot_above_6000"}]},"mark":{"type":"rect","fill":"#ffffff","stroke":"#8b1a1a","strokeWidth":1},
    "encoding":{"x":{"field":"col","type":"nominal","scale":{"domain":["xtime","nmot_above_6000"],"range":[93,220],"paddingInner":0,"paddingOuter":0},"axis":null},
     "y":{"datum":"title","type":"nominal","scale":{"domain":["title","head","r1","r2","r3","r4","r5","r6"],"range":[37,125],"paddingInner":0,"paddingOuter":0},"axis":null}}},
   {"data":{"values":[{"col":"xtime"},{"col":"nmot_above_6000"}]},"mark":{"type":"rect","fill":"#f6f6f6","stroke":"#777777","strokeWidth":1},
    "encoding":{"x":{"field":"col","type":"nominal"},"y":{"datum":"head","type":"nominal"}}},
   {"data":{"name":"outTable"},"transform":[{"fold":["xtime","nmot_above_6000"],"as":["col","val"]}],"mark":{"type":"rect","fill":"#ffffff","stroke":"#c4c4c4","strokeWidth":1},
    "encoding":{"x":{"field":"col","type":"nominal"},"y":{"field":"row","type":"nominal"}}},
   {"data":{"values":[{"caption":"Output"}]},"mark":{"type":"text","fontWeight":"bold","color":"#000000","dx":32},
    "encoding":{"x":{"datum":"xtime","type":"nominal"},"y":{"datum":"title","type":"nominal"},"text":{"field":"caption"}}},
   {"data":{"values":[{"col":"xtime"},{"col":"nmot_above_6000"}]},"mark":{"type":"text","fontWeight":"bold","color":"#000000"},
    "encoding":{"x":{"field":"col","type":"nominal"},"y":{"datum":"head","type":"nominal"},"text":{"field":"col"}}},
   {"data":{"name":"outTable"},"transform":[{"fold":["xtime","nmot_above_6000"],"as":["col","val"]}],"mark":{"type":"text","color":"#4a4a4a"},
    "encoding":{"x":{"field":"col","type":"nominal"},"y":{"field":"row","type":"nominal"},"text":{"field":"val"}}}
  ]}
 ],"spacing":1}
]
}
